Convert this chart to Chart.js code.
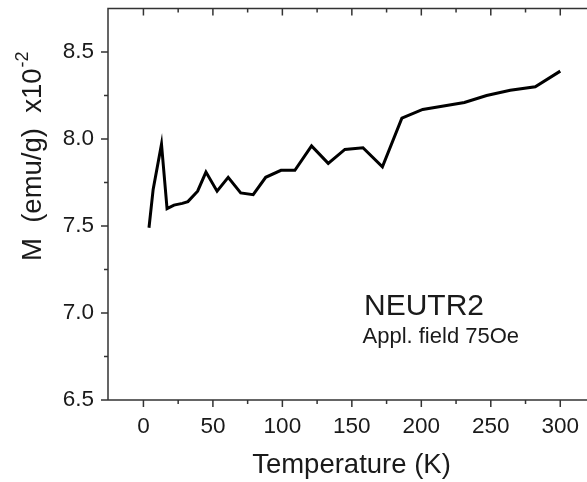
<!DOCTYPE html>
<html>
<head>
<meta charset="utf-8">
<script src="https://cdn.jsdelivr.net/npm/chart.js@4.4.1/dist/chart.umd.min.js"></script>
<style>
html,body{margin:0;padding:0;background:#fff;overflow:hidden;width:587px;height:482px;}
canvas{display:block;}
</style>
</head>
<body>
<canvas id="c" width="595" height="482" style="width:595px;height:482px"></canvas>
<script>
const temperatures = [4,7,13,17,22,28,32,39,45,53,61,70,79,88,99,109,121,133,145,158,172,186,201,216,231,247,264,282,300];
const magnetization = [7.49,7.71,7.97,7.60,7.62,7.63,7.64,7.70,7.81,7.70,7.78,7.69,7.68,7.78,7.82,7.82,7.96,7.86,7.94,7.95,7.84,8.12,8.17,8.19,8.21,8.25,8.28,8.30,8.39];
const xMajorTicks = [0,50,100,150,200,250,300];
const xMinorTicks = [25,75,125,175,225,275];
const yMajorTicks = [6.5,7.0,7.5,8.0,8.5];
const yMinorTicks = [6.75,7.25,7.75,8.25];
const xTitle = 'Temperature (K)';
const yTitleMain = 'M  (emu/g)  x10';
const yTitleSup = '-2';
const sampleName = 'NEUTR2';
const fieldNote = 'Appl. field 75Oe';

const FONT = "'Liberation Sans', Arial, sans-serif";
const AXIS = '#333';
const TEXT = '#1a1a1a';

const framePlugin = {
  id: 'frame',
  afterDraw(chart) {
    const {ctx, chartArea: a, scales: {x, y}} = chart;
    ctx.save();
    ctx.strokeStyle = AXIS;
    ctx.lineWidth = 1.5;
    ctx.beginPath();
    ctx.moveTo(a.left, a.top); ctx.lineTo(a.left, a.bottom);
    ctx.moveTo(a.left - 0.75, a.bottom); ctx.lineTo(a.right, a.bottom);
    ctx.moveTo(a.left - 0.75, a.top); ctx.lineTo(a.right, a.top);
    xMajorTicks.forEach(v => { const px = x.getPixelForValue(v);
      ctx.moveTo(px, a.bottom); ctx.lineTo(px, a.bottom + 7);
      ctx.moveTo(px, a.top); ctx.lineTo(px, a.top + 7); });
    xMinorTicks.forEach(v => { const px = x.getPixelForValue(v);
      ctx.moveTo(px, a.bottom); ctx.lineTo(px, a.bottom + 4);
      ctx.moveTo(px, a.top); ctx.lineTo(px, a.top + 4); });
    yMajorTicks.forEach(v => { const py = y.getPixelForValue(v);
      ctx.moveTo(a.left, py); ctx.lineTo(a.left - 7, py); });
    yMinorTicks.forEach(v => { const py = y.getPixelForValue(v);
      ctx.moveTo(a.left, py); ctx.lineTo(a.left - 4, py); });
    ctx.stroke();

    ctx.fillStyle = TEXT;
    ctx.translate(40.5, 261);
    ctx.rotate(-Math.PI / 2);
    ctx.textAlign = 'left';
    ctx.textBaseline = 'alphabetic';
    ctx.font = '27.5px ' + FONT;
    ctx.fillText(yTitleMain, 0, 0);
    const w = ctx.measureText(yTitleMain).width;
    ctx.font = '18px ' + FONT;
    ctx.fillText(yTitleSup, w + 1, -13);
    ctx.restore();

    ctx.save();
    ctx.fillStyle = TEXT;
    ctx.textAlign = 'left';
    ctx.textBaseline = 'alphabetic';
    ctx.font = '30px ' + FONT;
    ctx.fillText(sampleName, 364, 315);
    ctx.font = '22px ' + FONT;
    ctx.fillText(fieldNote, 362.5, 343);
    ctx.restore();
  }
};

new Chart(document.getElementById('c'), {
  type: 'scatter',
  data: {
    datasets: [{
      data: temperatures.map((t, i) => ({x: t, y: magnetization[i]})),
      showLine: true,
      borderColor: '#000',
      borderWidth: 3,
      pointRadius: 0,
      tension: 0,
      borderJoinStyle: 'miter'
    }]
  },
  options: {
    responsive: false,
    animation: false,
    layout: {padding: {top: 8.5, right: 0, left: 0, bottom: 0}},
    plugins: {legend: {display: false}, tooltip: {enabled: false}},
    scales: {
      x: {
        type: 'linear', min: -25.5, max: 325,
        afterFit(s) { s.height = 82; s.paddingLeft = 0; s.paddingRight = 0; },
        grid: {display: false, drawTicks: false},
        border: {display: false},
        afterBuildTicks(s) { s.ticks = xMajorTicks.map(v => ({value: v})); },
        ticks: {font: {size: 22.5, family: FONT}, color: TEXT, padding: 13, maxRotation: 0,
          callback: v => String(v)},
        title: {display: true, text: xTitle, font: {size: 27.5, family: FONT}, color: TEXT, padding: {top: 8, bottom: 0}}
      },
      y: {
        type: 'linear', min: 6.5, max: 8.75,
        afterFit(s) { s.width = 108; s.paddingTop = 0; s.paddingBottom = 0; },
        grid: {display: false, drawTicks: false},
        border: {display: false},
        afterBuildTicks(s) { s.ticks = yMajorTicks.map(v => ({value: v})); },
        ticks: {font: {size: 22.5, family: FONT}, color: TEXT, padding: 14,
          callback: v => v.toFixed(1)}
      }
    }
  },
  plugins: [framePlugin]
});
</script>
</body>
</html>
